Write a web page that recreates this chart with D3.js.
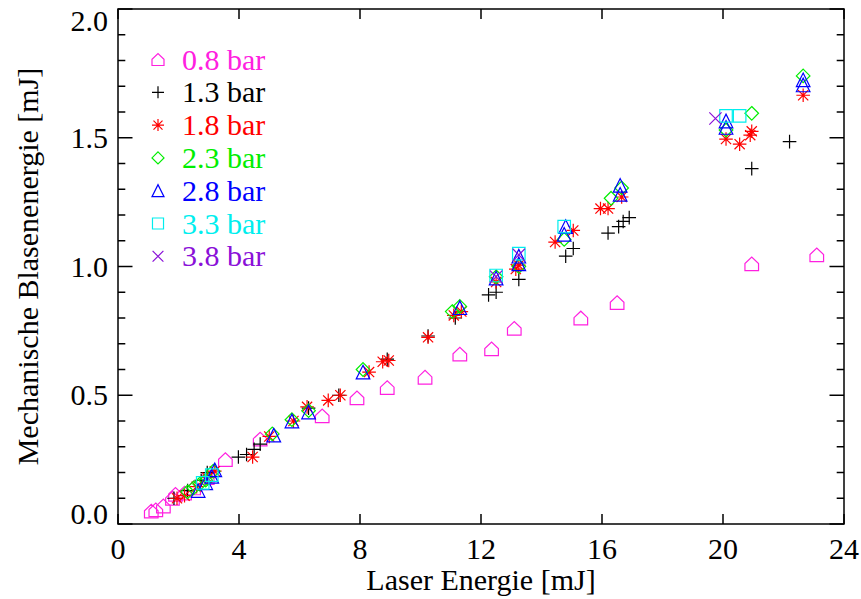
<!DOCTYPE html>
<html>
<head>
<meta charset="utf-8">
<script src="https://cdn.jsdelivr.net/npm/d3@7"></script>
<style>
  html, body { margin: 0; padding: 0; background: #fff; }
  svg { display: block; }
  text { font-family: "Liberation Serif", "Times New Roman", serif; }
</style>
</head>
<body>
<svg id="chart" width="861" height="599"></svg>
<script>
// Laser energy [mJ] vs. mechanical bubble energy [mJ], one series per ambient pressure
const seriesNames = ["0.8 bar", "1.3 bar", "1.8 bar", "2.3 bar", "2.8 bar", "3.3 bar", "3.8 bar"];

const bar08 = [[1.1,0.05],[1.25,0.055],[1.5,0.07],[1.8,0.1],[1.9,0.115],[2.2,0.12],[2.5,0.14],[2.95,0.18],
  [3.55,0.25],[4.7,0.33],[6.75,0.42],[7.9,0.49],[8.9,0.53],[10.15,0.57],[11.3,0.66],[12.35,0.68],
  [13.1,0.76],[15.3,0.8],[16.5,0.86],[20.95,1.01],[23.1,1.045]];
const bar13 = [[1.85,0.1],[2.3,0.13],[2.75,0.17],[2.95,0.2],[3.98,0.26],[4.25,0.27],[4.5,0.29],[4.7,0.31],
  [6.3,0.45],[7.3,0.5],[8.9,0.64],[10.25,0.73],[11.15,0.8],[12.25,0.89],[12.5,0.9],[13.25,0.95],
  [14.8,1.04],[15.05,1.07],[16.2,1.13],[16.55,1.155],[16.7,1.175],[16.9,1.19],[20.95,1.38],[22.2,1.485]];
const bar18 = [[1.95,0.1],[2.2,0.11],[2.6,0.145],[2.95,0.18],[3.2,0.205],[4.45,0.26],[5.0,0.34],[5.8,0.4],
  [6.25,0.455],[6.95,0.48],[7.35,0.5],[8.3,0.59],[8.75,0.63],[8.95,0.635],[10.25,0.725],[11.1,0.81],
  [11.35,0.825],[12.5,0.94],[13.15,0.99],[13.25,1.005],[14.45,1.095],[15.05,1.14],[15.95,1.225],
  [16.2,1.225],[16.65,1.27],[20.1,1.495],[20.55,1.475],[20.9,1.51],[20.95,1.525],[22.65,1.665]];
const bar23 = [[2.3,0.125],[2.5,0.14],[2.7,0.155],[2.9,0.17],[3.15,0.205],[5.1,0.35],[5.75,0.405],[6.3,0.44],
  [8.1,0.6],[11.05,0.825],[11.3,0.845],[12.5,0.96],[13.25,1.0],[14.75,1.105],[16.3,1.265],[16.65,1.305],
  [20.1,1.53],[20.95,1.595],[22.65,1.74]];
const bar28 = [[2.65,0.13],[2.9,0.16],[3.1,0.185],[3.2,0.21],[5.15,0.345],[5.75,0.4],[6.3,0.435],[8.1,0.59],
  [11.3,0.84],[12.5,0.955],[13.25,1.01],[13.25,1.04],[14.75,1.125],[14.8,1.155],[16.6,1.28],[16.6,1.315],
  [20.1,1.54],[20.1,1.565],[22.65,1.705],[22.65,1.725]];
const bar33 = [[2.8,0.16],[3.1,0.19],[12.5,0.965],[13.25,1.05],[14.75,1.155],[20.1,1.585],[20.55,1.585]];
const bar38 = [[12.5,0.96],[13.25,1.045],[19.75,1.575]];

const xTicks = [0, 4, 8, 12, 16, 20, 24];
const yTicks = [0.0, 0.5, 1.0, 1.5, 2.0];
const yMinorTicks = d3.range(0, 2.0001, 0.1);

const allSeries = [bar08, bar13, bar18, bar23, bar28, bar33, bar38];
const colors = ["#ff20e0", "#000000", "#ff0000", "#00ee00", "#0000ff", "#00eeee", "#8a10d8"];
const shapes = ["house", "plus", "star", "diamond", "triangle", "square", "cross"];

const svg = d3.select("#chart");
const plotLeft = 118, plotRight = 844, plotTop = 9, plotBottom = 524;
const x = d3.scaleLinear().domain([0, 24]).range([plotLeft, plotRight]);
const y = d3.scaleLinear().domain([0, 2]).range([plotBottom, plotTop]);

// Symbol outlines centred on the origin, half-size s
function symbolPath(shape, s) {
  const p = d3.path();
  switch (shape) {
    case "house":
      p.moveTo(-s, s); p.lineTo(-s, -0.05 * s); p.lineTo(0, -s); p.lineTo(s, -0.05 * s); p.lineTo(s, s); p.closePath();
      break;
    case "plus":
      p.moveTo(-s, 0); p.lineTo(s, 0); p.moveTo(0, -s); p.lineTo(0, s);
      break;
    case "star": {
      const d = s * 0.75;
      p.moveTo(-s, 0); p.lineTo(s, 0); p.moveTo(0, -s); p.lineTo(0, s);
      p.moveTo(-d, -d); p.lineTo(d, d); p.moveTo(-d, d); p.lineTo(d, -d);
      break;
    }
    case "diamond":
      p.moveTo(0, -s); p.lineTo(s, 0); p.lineTo(0, s); p.lineTo(-s, 0); p.closePath();
      break;
    case "triangle":
      p.moveTo(-s, s); p.lineTo(s, s); p.lineTo(0, -s); p.closePath();
      break;
    case "square": {
      const q = s * 0.92;
      p.rect(-q, -q, 2 * q, 2 * q);
      break;
    }
    case "cross": {
      const q = s * 0.9;
      p.moveTo(-q, -q); p.lineTo(q, q); p.moveTo(-q, q); p.lineTo(q, -q);
      break;
    }
  }
  return p.toString();
}

// Data points
allSeries.forEach((data, i) => {
  svg.append("g")
    .selectAll("path")
    .data(data)
    .join("path")
    .attr("transform", d => `translate(${x(d[0])},${y(d[1])})`)
    .attr("d", symbolPath(shapes[i], 6.8))
    .attr("fill", "none")
    .attr("stroke", colors[i])
    .attr("stroke-width", 1.2);
});

// Frame and ticks
const axisG = svg.append("g").attr("stroke", "#000").attr("stroke-width", 1.5);
axisG.append("rect")
  .attr("x", plotLeft).attr("y", plotTop)
  .attr("width", plotRight - plotLeft).attr("height", plotBottom - plotTop)
  .attr("fill", "none");

const xTickLen = 10, yMajorLen = 14.5, yMinorLen = 7.3;
xTicks.forEach(t => {
  axisG.append("line").attr("x1", x(t)).attr("x2", x(t)).attr("y1", plotBottom).attr("y2", plotBottom - xTickLen);
  axisG.append("line").attr("x1", x(t)).attr("x2", x(t)).attr("y1", plotTop).attr("y2", plotTop + xTickLen);
});
yMinorTicks.forEach((t, i) => {
  const len = (i % 5 === 0) ? yMajorLen : yMinorLen;
  const yy = y(t);
  axisG.append("line").attr("x1", plotLeft).attr("x2", plotLeft + len).attr("y1", yy).attr("y2", yy);
  axisG.append("line").attr("x1", plotRight).attr("x2", plotRight - len).attr("y1", yy).attr("y2", yy);
});

// Tick labels
svg.append("g").selectAll("text")
  .data(xTicks).join("text")
  .attr("x", d => x(d)).attr("y", 559)
  .attr("text-anchor", "middle")
  .attr("font-size", 30)
  .text(d => d3.format("d")(d));

svg.append("g").selectAll("text")
  .data(yTicks).join("text")
  .attr("x", 108)
  .attr("y", (d, i) => {
    if (i === 0) return y(d);
    if (i === yTicks.length - 1) return y(d) + 22;
    return y(d) + 10;
  })
  .attr("text-anchor", "end")
  .attr("font-size", 30)
  .text(d => d3.format(".1f")(d));

// Axis titles
svg.append("text")
  .attr("x", (plotLeft + plotRight) / 2).attr("y", 590)
  .attr("text-anchor", "middle")
  .attr("font-size", 30)
  .text("Laser Energie [mJ]");

svg.append("text")
  .attr("transform", `translate(38,${(plotTop + plotBottom) / 2}) rotate(-90)`)
  .attr("text-anchor", "middle")
  .attr("font-size", 30)
  .text("Mechanische Blasenenergie [mJ]");

// Legend
const legend = svg.append("g");
seriesNames.forEach((name, i) => {
  const cy = 59.5 + i * 32.8;
  legend.append("path")
    .attr("transform", `translate(158,${cy})`)
    .attr("d", symbolPath(shapes[i], 6))
    .attr("fill", "none")
    .attr("stroke", colors[i])
    .attr("stroke-width", 1.2);
  legend.append("text")
    .attr("x", 182).attr("y", cy + 10)
    .attr("font-size", 30)
    .attr("fill", colors[i])
    .text(name);
});
</script>
</body>
</html>
